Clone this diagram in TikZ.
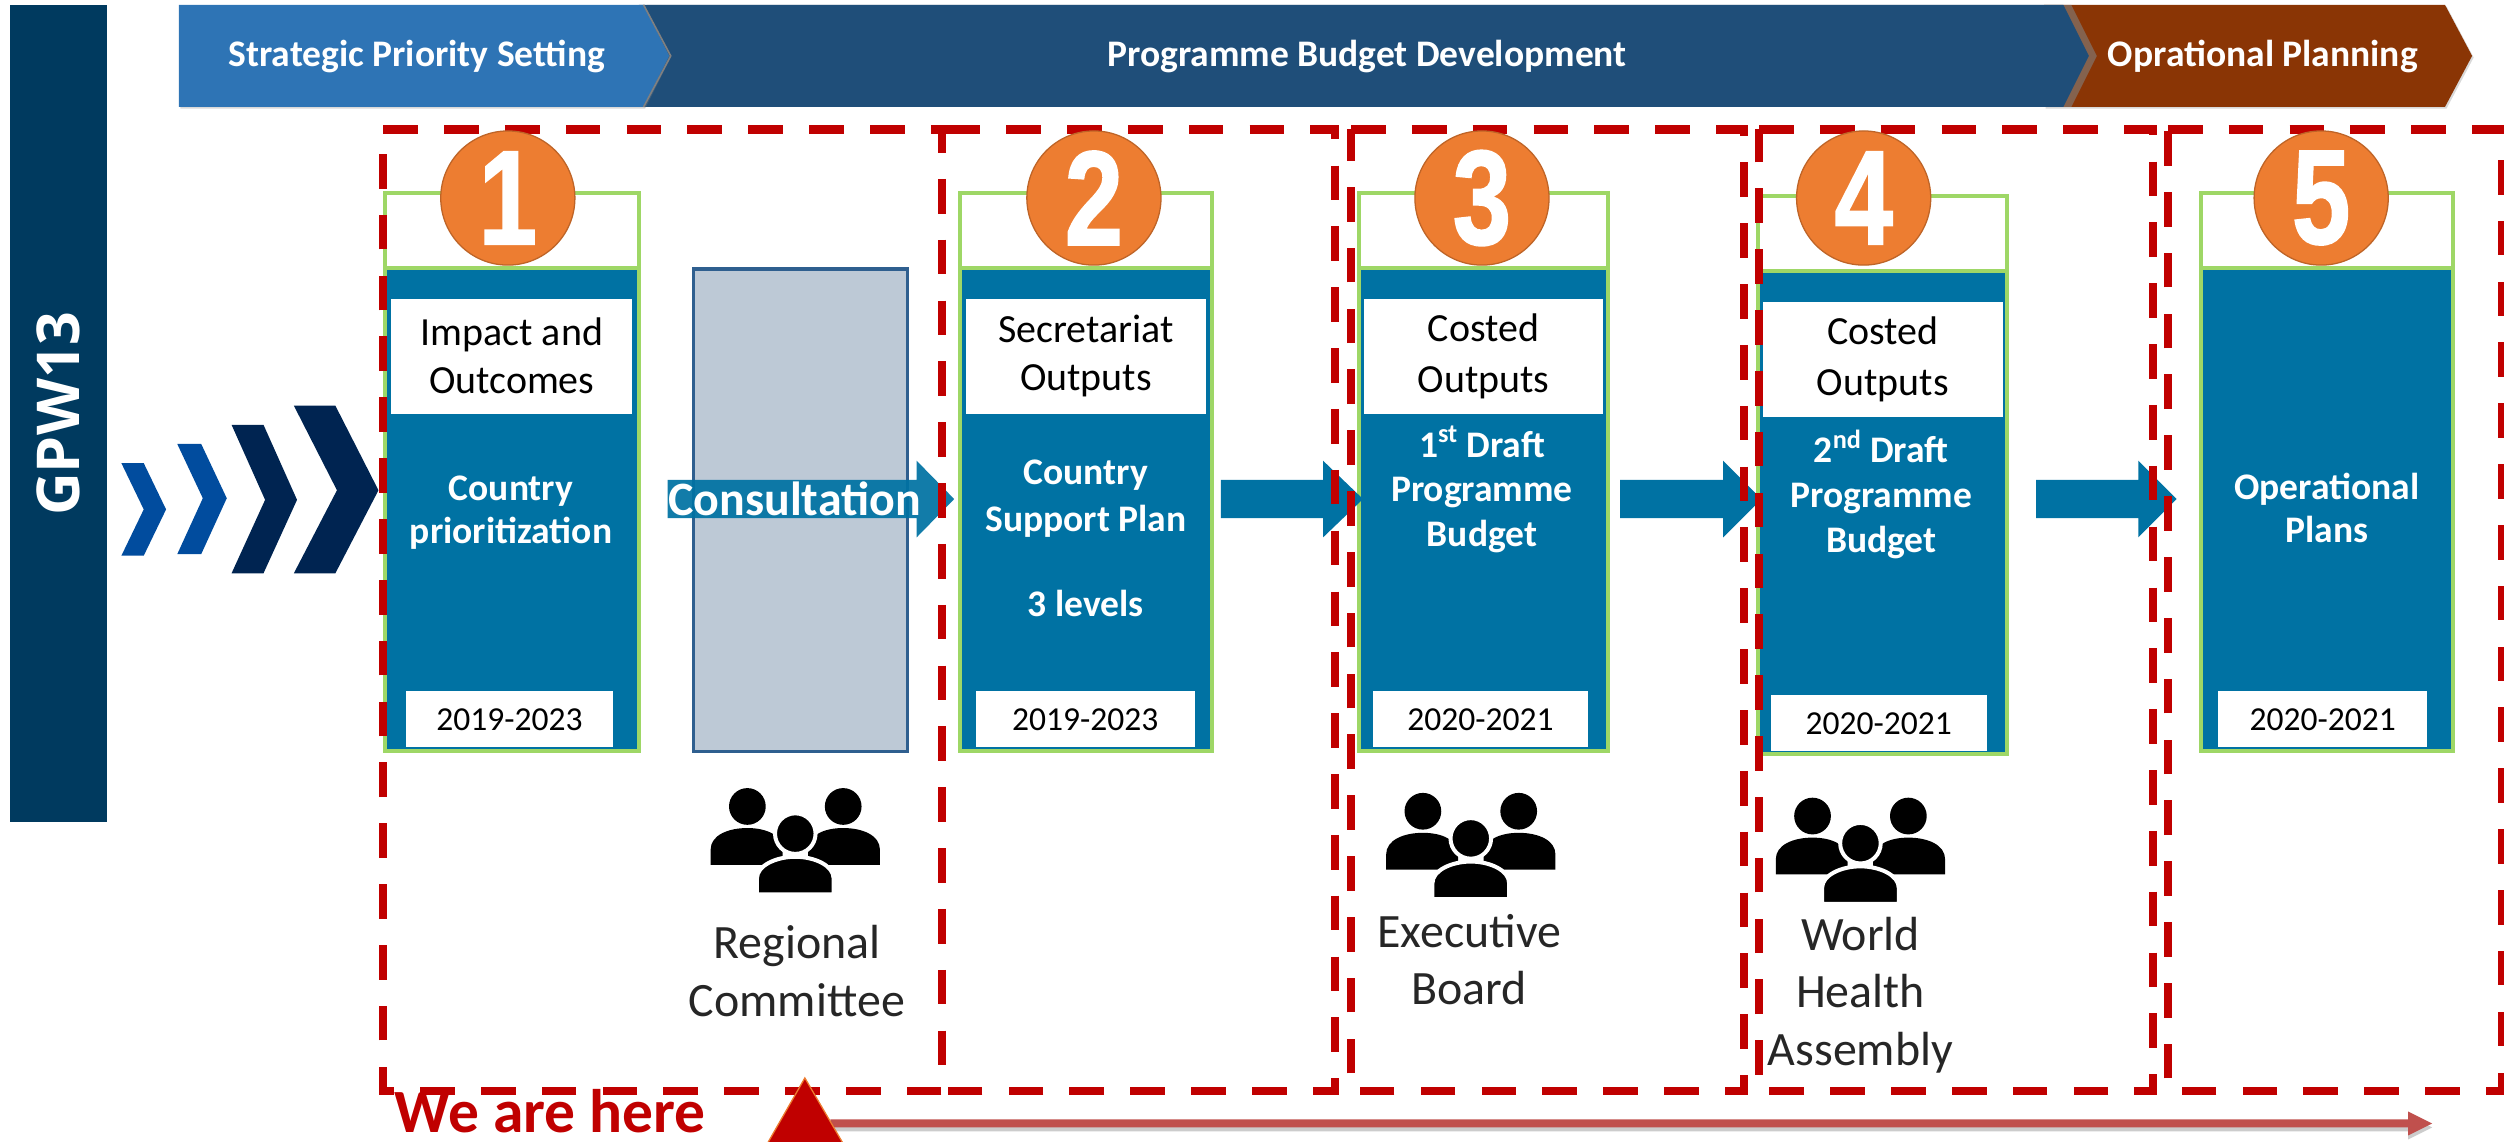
\documentclass[tikz,border=0pt]{standalone}
\usepackage{fontspec}
\setmainfont{Carlito}
\newfontfamily\gpwfont{Open Sans}
\newfontfamily\numfont[BoldFeatures={FakeBold=1.6}]{Liberation Sans}
\usetikzlibrary{positioning,shadows}
\definecolor{cardblue}{HTML}{0072A3}
\definecolor{cardgreen}{HTML}{9ED766}
\definecolor{gpwblue}{HTML}{003A5F}
\definecolor{bannerblue}{HTML}{2E74B5}
\definecolor{bannerdark}{HTML}{1F4E79}
\definecolor{bannerbrown}{HTML}{8A3505}
\definecolor{dashred}{HTML}{C00000}
\definecolor{numorange}{HTML}{ED7D31}
\definecolor{chevblue}{HTML}{014C9E}
\definecolor{chevdark}{HTML}{002451}
\definecolor{greybox}{HTML}{BDC9D6}
\definecolor{greyline}{HTML}{2F5F8F}
\definecolor{longred}{HTML}{C0504D}
\newcommand{\fsz}[1]{\fontsize{#1}{#1}\selectfont}
\newcommand{\numtext}[1]{\scalebox{.78}[1]{#1}}
\begin{document}
\begin{tikzpicture}
		[x=1pt,y=-1pt,
		cardbody/.style={rectangle,fill=cardblue,draw=cardgreen,line width=2.5pt,inner sep=0pt,outer sep=0pt,minimum height=302pt},
		cardtop/.style={rectangle,fill=white,draw=cardgreen,line width=2.5pt,inner sep=0pt,outer sep=0pt,minimum height=47pt},
		whitebox/.style={rectangle,fill=white,inner sep=0pt,minimum height=72pt,align=center,text=black,font=\fsz{25}},
		yearbox/.style={rectangle,fill=white,inner sep=0pt,minimum height=35pt,text=black,font=\fsz{21}},
		bluetext/.style={align=center,text=white,inner sep=0pt,font=\fsz{23.5}\bfseries},
		number/.style={circle,fill=numorange,draw=numorange!80!black,line width=0.8pt,inner sep=0pt,minimum size=84pt,text=white,font=\numfont\fsz{84}\bfseries},
		dashbox/.style={draw=dashred,line width=5.2pt,dash pattern=on 21.7pt off 16.4pt},
		bannerlabel/.style={text=white,inner sep=0pt,font=\fsz{23.5}\bfseries},
		flowarrow/.style={fill=cardblue},
		bodylabel/.style={align=center,inner sep=0pt,text=black!85,font=\fsz{30}},
		pics/peoplegroup/.style={code={
			\fill [black] (-30,-17) circle [radius=11.5];
			\fill [black] (30,-17) circle [radius=11.5];
			\fill [black] (-53,19.5) -- (-53,10) .. controls (-53,1) and (-42,-3.5) .. (-30,-3.5) .. controls (-18,-3.5) and (-8,1) .. (-8,10) -- (-8,19.5) -- cycle;
			\fill [black] (53,19.5) -- (53,10) .. controls (53,1) and (42,-3.5) .. (30,-3.5) .. controls (18,-3.5) and (8,1) .. (8,10) -- (8,19.5) -- cycle;
			\filldraw [black,draw=white,line width=2.5pt] (0,0) circle [radius=12.7];
			\filldraw [black,draw=white,line width=2.5pt] (-24,38) -- (-24,28) .. controls (-24,20) and (-12,14.5) .. (0,14.5) .. controls (12,14.5) and (24,20) .. (24,28) -- (24,38) -- cycle;
		}}]
		\useasboundingbox (0,0) rectangle (1568,715);

		% left bar and chevrons
		\node [rectangle,fill=gpwblue,inner sep=0pt,minimum width=61pt,minimum height=512pt] (gpwbar) at (36.5,259) {};
		\node [rotate=90,text=white,inner sep=0pt,font=\gpwfont\fsz{37}\bfseries] (gpwlabel) at (gpwbar) {GPW13};
		\fill [chevblue] (76,290) -- (90,290) -- (104,319) -- (90,348) -- (76,348) -- (90,319) -- cycle;
		\fill [chevblue] (111,278) -- (126,278) -- (142,312) -- (126,347) -- (111,347) -- (127,312) -- cycle;
		\fill [chevdark] (145,266) -- (165,266) -- (186,313) -- (165,359) -- (145,359) -- (166,313) -- cycle;
		\fill [chevdark] (184,254) -- (210,254) -- (237,307) -- (210,359) -- (184,359) -- (211,307) -- cycle;

		% banner
		\fill [bannerbrown,drop shadow={opacity=.3,shadow xshift=1pt,shadow yshift=-1pt}] (1280,3) -- (1531,3) -- (1548,35) -- (1531,67) -- (1280,67) -- cycle;
		\fill [bannerdark,drop shadow={opacity=.6,shadow xshift=5pt,shadow yshift=0pt}] (400,3) -- (1292,3) -- (1308,35) -- (1292,67) -- (400,67) -- cycle;
		\fill [bannerblue,drop shadow={opacity=.3,shadow xshift=1pt,shadow yshift=-1pt}] (112,3) -- (403,3) -- (419,35) -- (403,67) -- (112,67) -- cycle;
		\draw [gray,line width=1pt] (403,3) -- (420,35) -- (403,67);
		\node [bannerlabel] (strategic) at (261,35.5) {Strategic Priority Setting};
		\node [bannerlabel] (programme) at (856,35.5) {Programme Budget Development};
		\node [bannerlabel] (oprational) at (1417,35.5) {Oprational Planning};

		% cards
		\node [cardbody,minimum width=159pt] (body1) at (320.5,319) {};
		\node [cardtop,minimum width=159pt] (top1) [above=0pt of body1] {};
		\node [cardbody,minimum width=158pt] (body2) at (680,319) {};
		\node [cardtop,minimum width=158pt] (top2) [above=0pt of body2] {};
		\node [cardbody,minimum width=156pt] (body3) at (929,319) {};
		\node [cardtop,minimum width=156pt] (top3) [above=0pt of body3] {};
		\node [cardbody,minimum width=156pt] (body4) at (1179,321) {};
		\node [cardtop,minimum width=156pt] (top4) [above=0pt of body4] {};
		\node [cardbody,minimum width=158pt] (body5) at (1457,319) {};
		\node [cardtop,minimum width=158pt] (top5) [above=0pt of body5] {};

		\node [whitebox,minimum width=151pt] (impact) at (320.5,223) {Impact and\\[5pt]Outcomes};
		\node [whitebox,minimum width=150pt] (secretariat) at (680,223) {\raisebox{-2pt}{Secretariat}\\[5pt]\raisebox{-2pt}{Outputs}};
		\node [whitebox,minimum width=150pt] (costeda) at (929,223) {\raisebox{-1pt}{Costed}\\[6pt]\raisebox{-2pt}{Outputs}};
		\node [whitebox,minimum width=150pt] (costedb) at (1179,225) {\raisebox{-1pt}{Costed}\\[6pt]\raisebox{-2pt}{Outputs}};

		\node [bluetext] (prioritization) at (320,321) {Country\\[4pt]prioritization};
		\node [bluetext] (support) at (680,337) {Country\\[6pt]Support Plan\\[30pt]3 levels};
		\node [bluetext] (drafta) at (928,306.5) {1\textsuperscript{st} Draft\\[4.5pt]Programme\\[4.5pt]Budget};
		\node [bluetext] (draftb) at (1178,309.5) {2\textsuperscript{nd} Draft\\[4.5pt]Programme\\[4.5pt]Budget};
		\node [bluetext] (operational) at (1457,318) {Operational\\[3pt]Plans};

		\node [yearbox,minimum width=130pt] (yeara) at (319,450.5) {2019-2023};
		\node [yearbox,minimum width=137pt] (yearb) at (679.5,450.5) {2019-2023};
		\node [yearbox,minimum width=135pt] (yearc) at (927,450.5) {2020-2021};
		\node [yearbox,minimum width=135pt] (yeard) at (1176.5,453) {2020-2021};
		\node [yearbox,minimum width=131pt] (yeare) at (1454.5,450.5) {2020-2021};

		% consultation and flow arrows
		\node [rectangle,fill=greybox,draw=greyline,line width=2pt,inner sep=0pt,minimum width=134pt,minimum height=302pt] (consultbox) at (501.5,319.5) {};
		\fill [flowarrow,opacity=.93] (418,300.5) -- (574,300.5) -- (574,288.5) -- (597.5,312.5) -- (574,336.5) -- (574,324.5) -- (418,324.5) -- cycle;
		\node [text=white,inner sep=0pt,font=\fsz{30}\bfseries] (consultlabel) at (497.5,312.5) {Consultation};
		\fill [flowarrow] (764.5,300.5) -- (828.5,300.5) -- (828.5,288.5) -- (853.5,312.5) -- (828.5,336.5) -- (828.5,324.5) -- (764.5,324.5) -- cycle;
		\fill [flowarrow] (1014.5,300.5) -- (1079,300.5) -- (1079,288.5) -- (1103,312.5) -- (1079,336.5) -- (1079,324.5) -- (1014.5,324.5) -- cycle;
		\fill [flowarrow] (1275,300.5) -- (1339,300.5) -- (1339,288.5) -- (1363,312.5) -- (1339,336.5) -- (1339,324.5) -- (1275,324.5) -- cycle;

		% dashed stage boxes
		\draw [dashbox] (240,81) -- (590,81) -- (590,683) -- (240,683) -- cycle;
		\draw [dashbox] (592,81) -- (836,81) -- (836,683) -- (592,683);
		\draw [dashbox] (846,81) -- (1092,81) -- (1092,683) -- (846,683) -- cycle;
		\draw [dashbox] (1101.5,81) -- (1348,81) -- (1348,683) -- (1101.5,683) -- cycle;
		\draw [dashbox] (1357.5,81) -- (1567,81) -- (1567,683) -- (1357.5,683) -- cycle;

		% numbers
		\node [number] (num1) at (318,124) {\numtext{1}};
		\node [number] (num2) at (685,124) {\numtext{2}};
		\node [number] (num3) at (928,124) {\numtext{3}};
		\node [number] (num4) at (1167,124) {\numtext{4}};
		\node [number] (num5) at (1453.5,124) {\numtext{5}};

		% governing bodies
		\pic (regional) at (498,522) {peoplegroup};
		\pic (executive) at (921,525) {peoplegroup};
		\pic (assembly) at (1165,528) {peoplegroup};
		\node [bodylabel] (regionallabel) at (499,608) {Regional\\[6pt]Committee};
		\node [bodylabel] (executivelabel) at (920,601) {Executive\\[6pt]Board};
		\node [bodylabel] (assemblylabel) at (1165,623) {World\\[6pt]Health\\[6pt]Assembly};

		% timeline marker
		\node [inner sep=0pt,text=dashred,font=\fsz{38.5}\bfseries] (herelabel) at (344.5,696) {We are here};
		\fill [longred,drop shadow={opacity=.4,shadow xshift=0pt,shadow yshift=-2.5pt}] (520,701) -- (1508,701) -- (1508,696) -- (1523,703.5) -- (1508,711) -- (1508,706) -- (520,706) -- cycle;
		\filldraw [fill=dashred,draw=numorange,line width=0.8pt] (504,675) -- (528.5,717) -- (480,717) -- cycle;

	\end{tikzpicture}
\end{document}
